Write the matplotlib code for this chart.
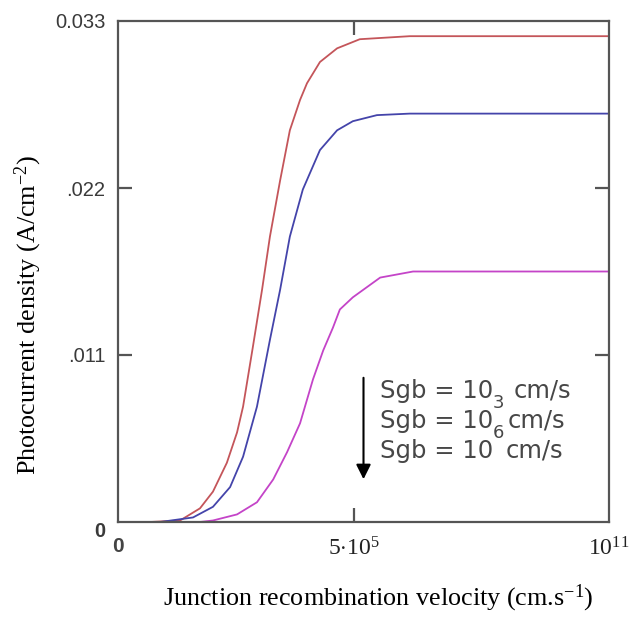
import numpy as np
import matplotlib
matplotlib.use("Agg")
import matplotlib.pyplot as plt
from matplotlib.ticker import FixedLocator, NullLocator

plt.rcParams['mathtext.fontset'] = 'custom'
plt.rcParams['mathtext.rm'] = 'Liberation Serif'
plt.rcParams['mathtext.it'] = 'Liberation Serif:italic'

# x values given as log10 of the junction recombination velocity (cm/s)
red_logx = [0.40, 1.09, 1.74, 2.17, 2.45, 2.75, 2.97, 3.10, 3.31, 3.51, 3.68, 3.90, 4.11, 4.33, 4.48, 4.76, 5.13, 5.62, 6.70, 11.0]
red_j = [0.0, 0.0, 0.0001, 0.0009, 0.0020, 0.0039, 0.0059, 0.0076, 0.0115, 0.0153, 0.0188, 0.0225, 0.0258, 0.0278, 0.0289, 0.0303, 0.0312, 0.0318, 0.0320, 0.0320]

blue_logx = [0.40, 1.31, 2.02, 2.45, 2.82, 3.10, 3.40, 3.68, 3.90, 4.11, 4.39, 4.76, 5.13, 5.47, 5.99, 6.70, 11.0]
blue_j = [0.0, 0.0, 0.0003, 0.0010, 0.0023, 0.0043, 0.0076, 0.0120, 0.0153, 0.0188, 0.0219, 0.0245, 0.0258, 0.0264, 0.0268, 0.0269, 0.0269]

mag_logx = [0.40, 2.17, 2.45, 2.97, 3.40, 3.75, 4.05, 4.33, 4.61, 4.83, 5.04, 5.19, 5.47, 6.06, 6.77, 11.0]
mag_j = [0.0, 0.0, 0.0001, 0.0005, 0.0013, 0.0028, 0.0046, 0.0065, 0.0094, 0.0113, 0.0128, 0.0140, 0.0148, 0.0161, 0.0165, 0.0165]

x_min_log = 0.4
x_ticks_log = [0.4, 5.5, 11.0]
x_tick_labels = ["0", r"5$\cdot$10$^{5}$", r"10$^{11}$"]
y_ticks = [0.0, 0.011, 0.022, 0.033]
y_tick_labels = ["0", ".011", ".022", "0.033"]

legend_exps = ["3", "6"]

W, H = 639, 617
fig = plt.figure(figsize=(W/100, H/100), dpi=100)
ax = fig.add_axes([118/W, 95/H, 491/W, 501/H])

def fy(py):
    return (522 - py) / 501

def fx(px):
    return (px - 118) / 491

ax.plot(10**np.array(red_logx), red_j, color='#c4555a', lw=1.3, solid_joinstyle='round')
ax.plot(10**np.array(blue_logx), blue_j, color='#4444aa', lw=1.3, solid_joinstyle='round')
ax.plot(10**np.array(mag_logx), mag_j, color='#c444c8', lw=1.3, solid_joinstyle='round')

ax.set_xscale('log')
ax.set_xlim(10**x_min_log, 1e11)
ax.set_ylim(0, 0.033)

ax.xaxis.set_major_locator(FixedLocator([10**v for v in x_ticks_log]))
ax.xaxis.set_minor_locator(NullLocator())
ax.set_xticklabels(x_tick_labels)
ax.set_yticks(y_ticks)
ax.set_yticklabels(y_tick_labels)

for s in ax.spines.values():
    s.set_color('#555555')
    s.set_linewidth(1.6)

ax.tick_params(axis='both', direction='in', length=10, width=1.6, color='#555555',
               top=True, right=True)
ax.tick_params(axis='y', pad=9, labelsize=14.5, labelcolor='#3a3a3a')
ax.tick_params(axis='x', pad=11, labelsize=17, labelcolor='#222222')

for i, t in enumerate(ax.yaxis.get_major_ticks()):
    if i in (0, 3):
        t.tick1line.set_visible(False)
        t.tick2line.set_visible(False)
for i, t in enumerate(ax.xaxis.get_major_ticks()):
    if i in (0, 2):
        t.tick1line.set_visible(False)
        t.tick2line.set_visible(False)

yl = ax.get_yticklabels()
for lab in yl:
    lab.set_family('Liberation Sans')
yl[0].set_fontweight('bold')
yl[0].set_va('top')
yl[0].set_y(-0.0006)
xl = ax.get_xticklabels()
xl[0].set_family('Liberation Sans')
xl[0].set_fontweight('bold')
xl[0].set_fontsize(15)
xl[0].set_color('#444444')
for lab in xl[1:]:
    lab.set_family('Liberation Serif')

ax.set_xlabel(r"Junction recombination velocity (cm.s$^{-1}$)", family='Liberation Serif',
              fontsize=18.8)
ax.xaxis.set_label_coords(fx(378), fy(583))
ax.set_ylabel(r"Photocurrent density (A/cm$^{-2}$)", family='Liberation Serif',
              fontsize=18.8)
ax.yaxis.set_label_coords(fx(44), fy(315))

# annotation arrow
ax.annotate('', xy=(0.5, fy(482)), xytext=(0.5, fy(375)), xycoords='axes fraction',
            arrowprops=dict(arrowstyle='-|>', color='black', lw=1.5, mutation_scale=22))

baselines = [398, 428, 458]
cm_x = [514, 508, 506]
for by, cx in zip(baselines, cm_x):
    ax.text(fx(380), fy(by), "Sgb = 10", transform=ax.transAxes, family='DejaVu Sans', fontsize=17.5,
            color='#474747', va='baseline', ha='left')
    ax.text(fx(cx), fy(by), "cm/s", transform=ax.transAxes, family='DejaVu Sans', fontsize=17.5,
            color='#474747', va='baseline', ha='left')
exp_centers = [403, 433]
for cy, e in zip(exp_centers, legend_exps):
    ax.text(fx(493), fy(cy), e, transform=ax.transAxes, family='DejaVu Sans', fontsize=13,
            color='#474747', va='center', ha='left')

fig.savefig('out.png', dpi=100)
